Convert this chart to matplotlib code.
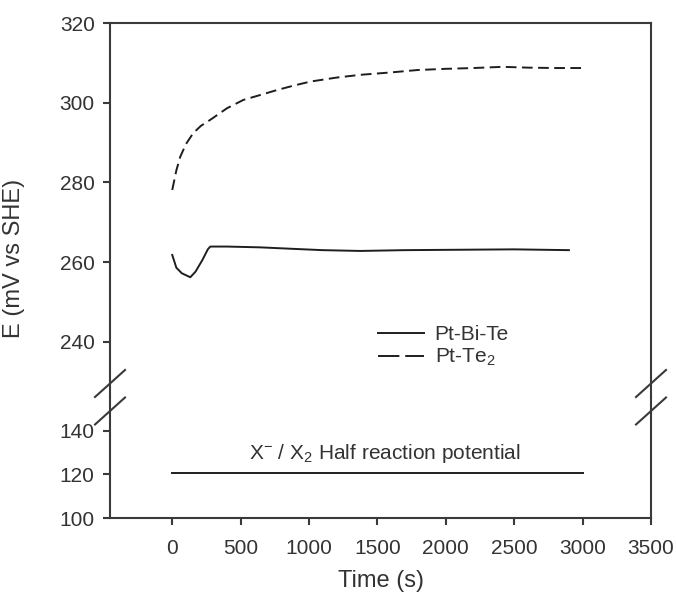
import numpy as np
import matplotlib
matplotlib.use("Agg")
from matplotlib import pyplot as plt
from matplotlib.lines import Line2D

plt.rcParams['font.family'] = ['Liberation Sans', 'DejaVu Sans']
plt.rcParams['mathtext.fontset'] = 'custom'
plt.rcParams['mathtext.rm'] = 'Liberation Sans'
plt.rcParams['mathtext.it'] = 'Liberation Sans:italic'

#=================================================
#DATA
#=================================================
t_te2 = [0, 30, 58, 100, 154, 210, 278, 400, 520, 650, 768, 900, 1010, 1200, 1376,
         1600, 1793, 2000, 2200, 2415, 2600, 2800, 3000]
E_te2 = [278.1, 283.0, 286.4, 289.6, 292.4, 294.2, 295.7, 298.6, 300.7, 302.0, 303.2,
         304.4, 305.3, 306.3, 307.0, 307.6, 308.2, 308.5, 308.7, 309.0, 308.8, 308.7, 308.7]

t_bite = [0, 30, 70, 132, 170, 220, 260, 278, 400, 644, 900, 1100, 1376, 1700, 2100, 2500, 2900]
E_bite = [261.8, 258.6, 257.2, 256.2, 257.6, 260.5, 263.2, 263.9, 263.9, 263.7, 263.3,
          263.0, 262.8, 263.0, 263.1, 263.2, 263.0]

t_half = [0, 3000]
E_half = [120.7, 120.7]

x_ticks = [0, 500, 1000, 1500, 2000, 2500, 3000, 3500]
upper_ticks = [240, 260, 280, 300, 320]
lower_ticks = [100, 120, 140]

#=================================================
#PLOT
#=================================================
W, H = 676, 597
fig = plt.figure(figsize=(W / 100, H / 100), dpi=100)

left, right = 110 / W, 651 / W
top, split, bottom = 1 - 23 / H, 1 - 397 / H, 1 - 518 / H

ax_up = fig.add_axes([left, split, right - left, top - split])
ax_lo = fig.add_axes([left, bottom, right - left, split - bottom])

ink = '#1e1e1e'
axc = '#3a3a3a'
txt = '#333333'
for ax in (ax_up, ax_lo):
    ax.set_xlim(-455, 3500)
    for s in ax.spines.values():
        s.set_linewidth(1.5)
        s.set_color(axc)
    ax.tick_params(direction='out', length=5, width=1.5, color=axc,
                   labelsize=15, labelcolor=txt, right=False, top=False)
    ax.tick_params(axis='y', pad=6)
    ax.tick_params(axis='x', pad=10)

ax_up.plot(t_te2, E_te2, color=ink, lw=1.4, linestyle=(0, (5.5, 2.8)))
ax_up.plot(t_bite, E_bite, color=ink, lw=1.4)
ax_up.set_ylim(226.15, 320)
ax_up.set_yticks(upper_ticks)
ax_up.spines['bottom'].set_visible(False)
ax_up.tick_params(bottom=False, labelbottom=False)

ax_lo.plot(t_half, E_half, color=ink, lw=1.4)
ax_lo.set_ylim(100, 155.6)
ax_lo.set_yticks(lower_ticks)
ax_lo.set_xticks(x_ticks)
ax_lo.spines['top'].set_visible(False)
ax_lo.text(1552, 129.5, r'X$^{-}$ / X$_2$ Half reaction potential', fontsize=15,
           color=txt, ha='center', va='center')
ax_lo.set_xlabel('Time (s)', fontsize=17, color=txt, labelpad=9)

fig.text(14 / W, 1 - 258 / H, 'E (mV vs SHE)', rotation=90, fontsize=17,
         color=txt, ha='center', va='center')

# legend
handles = [Line2D([], [], color=ink, lw=1.4),
           Line2D([], [], color=ink, lw=1.4, linestyle=(0, (11.0, 3.0)))]
fig.legend(handles, ['Pt-Bi-Te', r'Pt-Te$_2$'], frameon=False, fontsize=15,
           handlelength=2.2, handletextpad=0.5, labelspacing=0.12,
           loc='upper left', bbox_to_anchor=(368 / W, 1 - 315 / H),
           borderpad=0, labelcolor=txt)

# axis break marks on both sides
for xc in (110, 651):
    for yc in (383.5, 411):
        fig.add_artist(Line2D([(xc - 15) / W, (xc + 15) / W],
                              [1 - (yc + 13.5) / H, 1 - (yc - 13.5) / H],
                              color=axc, lw=1.5))

fig.savefig('out.png', dpi=100)
